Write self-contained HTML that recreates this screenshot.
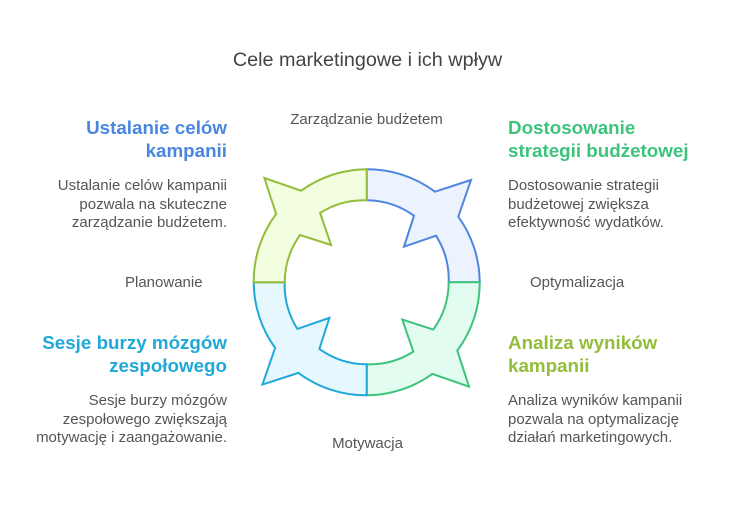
<!DOCTYPE html>
<html><head><meta charset="utf-8"><style>
body{margin:0;width:735px;height:519px;background:#fff;position:relative;font-family:"Liberation Sans",sans-serif;overflow:hidden}
.t{position:absolute;white-space:nowrap}
.h{font-weight:bold;font-size:18.8px;line-height:23px}
.b{font-size:15px;line-height:18.5px;color:#555}
.l{font-size:15px;color:#555}
.r{text-align:right}
</style></head><body>
<div class="t" style="left:0;width:735px;text-align:center;top:49px;font-size:19.8px;color:#444">Cele marketingowe i ich wpływ</div>
<div class="t h r" style="right:508px;top:116px;color:#4a86e0">Ustalanie celów<br>kampanii</div>
<div class="t b r" style="right:508px;top:177px">Ustalanie celów kampanii<br>pozwala na skuteczne<br>zarządzanie budżetem.</div>
<div class="t h" style="left:508px;top:116px;color:#3cc47c">Dostosowanie<br>strategii budżetowej</div>
<div class="t b" style="left:508px;top:177px">Dostosowanie strategii<br>budżetowej zwiększa<br>efektywność wydatków.</div>
<div class="t h r" style="right:508px;top:331px;color:#1fa8d8">Sesje burzy mózgów<br>zespołowego</div>
<div class="t b r" style="right:508px;top:392px">Sesje burzy mózgów<br>zespołowego zwiększają<br>motywację i zaangażowanie.</div>
<div class="t h" style="left:508px;top:331px;color:#93bd3a">Analiza wyników<br>kampanii</div>
<div class="t b" style="left:508px;top:392px">Analiza wyników kampanii<br>pozwala na optymalizację<br>działań marketingowych.</div>
<div class="t l" style="left:0;width:733px;text-align:center;top:111px">Zarządzanie budżetem</div>
<div class="t l" style="left:125px;top:274px">Planowanie</div>
<div class="t l" style="left:530px;top:274px">Optymalizacja</div>
<div class="t l" style="left:0;width:735px;text-align:center;top:435px">Motywacja</div>
<svg width="735" height="519" style="position:absolute;left:0;top:0">
<defs><path id="q" d="M0,-113 A113 113 0 0 1 68.3,-90.6 L104.3,-102.3 L91.6,-65.6 A113 113 0 0 1 113,0 L82,0 A82 82 0 0 0 69.3,-46.6 L37.3,-35.6 L47.3,-66.6 A82 82 0 0 0 0,-82 Z" stroke-width="2" stroke-linejoin="miter"/></defs>
<g transform="translate(366.7,282.3)">
<use href="#q" fill="#ecf2fe" stroke="#4f86e0"/>
<use href="#q" transform="rotate(90)" fill="#e2fcef" stroke="#3cc47c"/>
<use href="#q" transform="rotate(180)" fill="#e6f7fd" stroke="#1fa8d8"/>
<use href="#q" transform="rotate(270)" fill="#f3fde0" stroke="#93bd3a"/>
</g></svg>
</body></html>
